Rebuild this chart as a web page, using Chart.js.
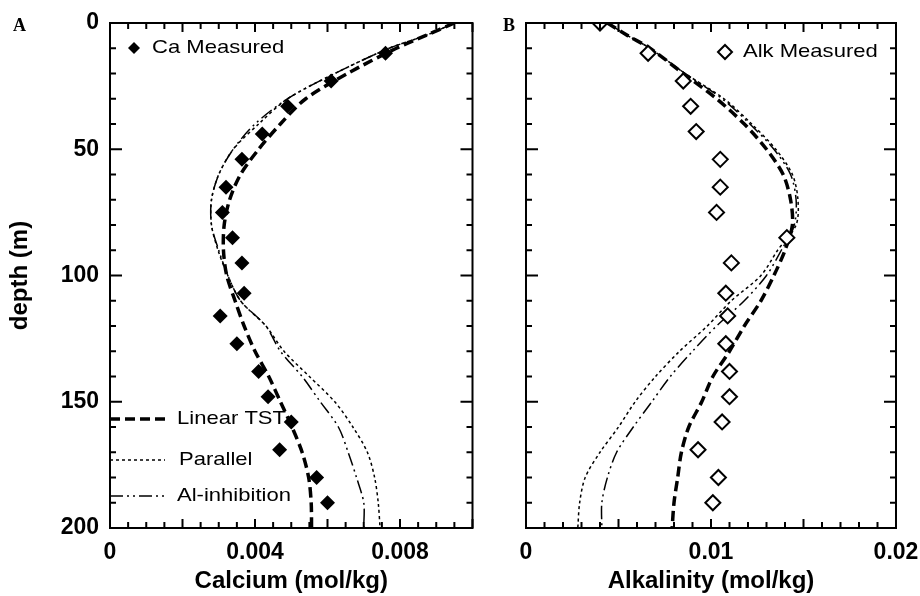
<!DOCTYPE html>
<html>
<head>
<meta charset="utf-8">
<script src="https://cdn.jsdelivr.net/npm/chart.js@4.4.1/dist/chart.umd.min.js"></script>
<style>
  html, body { margin: 0; padding: 0; background: #fff; }
  #wrap { position: relative; width: 920px; height: 596px; overflow: hidden; }
  #boxA { position: absolute; left: 0; top: 0; width: 480px; height: 596px; }
  #boxB { position: absolute; left: 480px; top: 0; width: 440px; height: 596px; }
</style>
</head>
<body>
<div id="wrap">
  <div id="boxA"><canvas id="chartA" width="480" height="596"></canvas></div>
  <div id="boxB"><canvas id="chartB" width="440" height="596"></canvas></div>
</div>
<script>
// measured samples
caDepth = [12, 23, 33, 44, 54, 65, 75, 85, 95, 107, 116, 127, 138, 148, 158, 169, 180, 190]
caMeasured = [0.0076, 0.0061, 0.0049, 0.0042, 0.00364, 0.0032, 0.0031, 0.00338, 0.00364, 0.0037, 0.00304, 0.0035, 0.0041, 0.00436, 0.005, 0.00468, 0.0057, 0.006]

alkDepth = [0, 12, 23, 33, 43, 54, 65, 75, 85, 95, 107, 116, 127, 138, 148, 158, 169, 180, 190]
alkMeasured = [0.004, 0.0066, 0.0085, 0.0089, 0.0092, 0.0105, 0.0105, 0.0103, 0.0141, 0.0111, 0.0108, 0.0109, 0.0108, 0.011, 0.011, 0.0106, 0.0093, 0.0104, 0.0101]

// model profiles, all on the same depth grid
modelDepth = [0, 5, 10, 20, 30, 40, 50, 60, 70, 80, 90, 100, 110, 120, 130, 140, 150, 160, 170, 180, 190, 200]
caLinear   = [0.0095, 0.0087, 0.0079, 0.00655, 0.0054, 0.0047, 0.0041, 0.0036, 0.0033, 0.00315, 0.00313, 0.00322, 0.00345, 0.0037, 0.004, 0.00438, 0.0047, 0.00502, 0.0053, 0.00548, 0.00555, 0.00556]
caParallel = [0.0095, 0.0087, 0.0077, 0.0062, 0.0049, 0.0041, 0.0034, 0.003, 0.0028, 0.0028, 0.00298, 0.00325, 0.0036, 0.0043, 0.0048, 0.0055, 0.0062, 0.0067, 0.0071, 0.0073, 0.0074, 0.00745]
caInhib    = [0.0095, 0.0087, 0.0077, 0.0062, 0.0049, 0.004, 0.0034, 0.003, 0.0028, 0.0028, 0.003, 0.00325, 0.0036, 0.0043, 0.0047, 0.0053, 0.0058, 0.0063, 0.00657, 0.0068, 0.007, 0.007]

alkLinear   = [0.0044, 0.0055, 0.0067, 0.0085, 0.0103, 0.0118, 0.013, 0.0139, 0.0143, 0.0144, 0.014, 0.0134, 0.0127, 0.0118, 0.011, 0.0101, 0.0095, 0.0088, 0.0084, 0.0082, 0.008, 0.0079]
alkParallel = [0.0044, 0.0055, 0.0067, 0.0086, 0.0107, 0.0122, 0.0135, 0.0144, 0.0147, 0.0146, 0.0136, 0.0127, 0.0111, 0.0098, 0.0083, 0.007, 0.0059, 0.005, 0.004, 0.0032, 0.0029, 0.0028]
alkInhib    = [0.0044, 0.0055, 0.0067, 0.0086, 0.0106, 0.0121, 0.0134, 0.0143, 0.0146, 0.0145, 0.0138, 0.013, 0.0118, 0.0103, 0.009, 0.0078, 0.0068, 0.0058, 0.0049, 0.0044, 0.0041, 0.0041]

caTicks = [0, 0.004, 0.008]
alkTicks = [0, 0.01, 0.02]
depthTicks = [0, 50, 100, 150, 200]

Chart.defaults.font.family = '"Liberation Sans", Arial, Helvetica, sans-serif'
Chart.defaults.color = '#000'

function pts(xs, ys) { return xs.map((v, i) => ({x: v, y: ys[i]})) }

function modelSets(lin, par, inh) {
  return [
    {label: 'Linear TST', data: pts(lin, modelDepth), showLine: true, pointRadius: 0,
     borderColor: '#000', borderWidth: 3.5, borderDash: [10, 5], tension: 0.3},
    {label: 'Parallel', data: pts(par, modelDepth), showLine: true, pointRadius: 0,
     borderColor: '#000', borderWidth: 1.5, borderDash: [3, 3], tension: 0.3},
    {label: 'Al-inhibition', data: pts(inh, modelDepth), showLine: true, pointRadius: 0,
     borderColor: '#000', borderWidth: 1.5, borderDash: [13, 4, 2, 4, 2, 4], tension: 0.3}
  ]
}

// text that is a bit wider than the font, like the original figure
function wideText(ctx, txt, x, y, font, sx) {
  ctx.save()
  ctx.font = font
  ctx.textAlign = 'left'
  ctx.textBaseline = 'middle'
  ctx.fillStyle = '#000'
  ctx.translate(x, y)
  ctx.scale(sx, 1)
  ctx.fillText(txt, 0, 0)
  ctx.restore()
}

const decor = {
  id: 'decor',
  afterDraw(chart, args, o) {
    const ctx = chart.ctx, a = chart.chartArea, xs = chart.scales.x, ys = chart.scales.y
    ctx.save()
    ctx.strokeStyle = '#000'
    ctx.lineWidth = 2
    ctx.setLineDash([])
    ctx.strokeRect(a.left, a.top, a.right - a.left, a.bottom - a.top)

    // inward ticks on all four sides
    ctx.beginPath()
    const nx = Math.round(xs.max / o.xMinor)
    for (let i = 0; i <= nx; i++) {
      const px = xs.getPixelForValue(i * o.xMinor)
      const len = i % o.xLongEvery == 0 ? 9 : 6
      ctx.moveTo(px, a.bottom); ctx.lineTo(px, a.bottom - len)
      ctx.moveTo(px, a.top); ctx.lineTo(px, a.top + len)
    }
    for (let d = 0; d <= 200; d += 10) {
      const py = ys.getPixelForValue(d)
      const len = d % 50 == 0 ? 12 : 6
      ctx.moveTo(a.left, py); ctx.lineTo(a.left + len, py)
      ctx.moveTo(a.right, py); ctx.lineTo(a.right - len, py)
    }
    ctx.stroke()

    // panel letter
    ctx.font = 'bold 18px "Liberation Serif", "Times New Roman", serif'
    ctx.textBaseline = 'alphabetic'
    ctx.fillStyle = '#000'
    ctx.fillText(o.letter, o.letterX, 31)

    // marker legend
    const m = o.marker
    ctx.beginPath()
    ctx.moveTo(m.x - m.r, m.y); ctx.lineTo(m.x, m.y - m.r)
    ctx.lineTo(m.x + m.r, m.y); ctx.lineTo(m.x, m.y + m.r)
    ctx.closePath()
    if (m.filled) { ctx.fill() } else { ctx.fillStyle = '#fff'; ctx.fill(); ctx.stroke() }
    wideText(ctx, m.text, m.tx, m.y, '19px "Liberation Sans", Arial, sans-serif', 1.16)

    // line legend
    if (o.lines) {
      o.lines.forEach(it => {
        const ds = chart.data.datasets[it.ds]
        ctx.save()
        ctx.beginPath()
        ctx.lineWidth = ds.borderWidth
        ctx.setLineDash(ds.borderDash)
        ctx.moveTo(a.left, it.y); ctx.lineTo(a.left + 55, it.y)
        ctx.stroke()
        ctx.restore()
        wideText(ctx, ds.label, it.tx, it.y, '19px "Liberation Sans", Arial, sans-serif', 1.16)
      })
    }
    ctx.restore()
  }
}

function makeChart(id, measured, models, xMax, xTicks, xTitle, yShow, pad, yWidth, decorOpts) {
  return new Chart(document.getElementById(id), {
    type: 'scatter',
    data: {datasets: [measured].concat(models)},
    plugins: [decor],
    options: {
      responsive: false,
      animation: false,
      events: [],
      layout: {padding: pad},
      plugins: {legend: {display: false}, tooltip: {enabled: false}, decor: decorOpts},
      scales: {
        x: {
          type: 'linear', min: 0, max: xMax,
          afterBuildTicks: s => { s.ticks = xTicks.map(v => ({value: v})) },
          afterFit: s => { s.height = 68; s.paddingLeft = 0; s.paddingRight = 0 },
          grid: {display: false, drawTicks: false},
          border: {display: false},
          ticks: {font: {size: 23, weight: 'bold'}, padding: 11, maxRotation: 0, callback: v => String(v)},
          title: {display: true, text: xTitle, font: {size: 24, weight: 'bold'}, padding: {top: 0, bottom: 0}}
        },
        y: {
          type: 'linear', min: 0, max: 200, reverse: true,
          afterBuildTicks: s => { s.ticks = depthTicks.map(v => ({value: v})) },
          afterFit: s => { s.width = yWidth; s.paddingTop = 0; s.paddingBottom = 0 },
          grid: {display: false, drawTicks: false},
          border: {display: false},
          ticks: {display: yShow, font: {size: 23, weight: 'bold'}, padding: 11},
          title: {display: yShow, text: 'depth (m)', font: {size: 24, weight: 'bold'}, padding: {top: 6, bottom: 0}}
        }
      }
    }
  })
}

makeChart('chartA',
  {label: 'Ca Measured', data: pts(caMeasured, caDepth), pointStyle: 'rectRot', pointRadius: 7.5,
   backgroundColor: '#000', borderColor: '#000', borderWidth: 0},
  modelSets(caLinear, caParallel, caInhib),
  0.01, caTicks, 'Calcium (mol/kg)', true,
  {left: 0, right: 1, top: 23, bottom: 0}, 110,
  {xMinor: 0.0005, xLongEvery: 4, letter: 'A', letterX: 13,
   marker: {x: 134, y: 48, r: 6, filled: true, text: 'Ca Measured', tx: 152},
   lines: [{ds: 1, y: 419, tx: 177}, {ds: 2, y: 460, tx: 179}, {ds: 3, y: 496, tx: 177}]})

makeChart('chartB',
  {label: 'Alk Measured', data: pts(alkMeasured, alkDepth), pointStyle: 'rectRot', pointRadius: 7.5,
   backgroundColor: '#fff', borderColor: '#000', borderWidth: 2},
  modelSets(alkLinear, alkParallel, alkInhib),
  0.02, alkTicks, 'Alkalinity (mol/kg)', false,
  {left: 0, right: 24, top: 23, bottom: 0}, 46,
  {xMinor: 0.001, xLongEvery: 5, letter: 'B', letterX: 23,
   marker: {x: 245, y: 52, r: 7, filled: false, text: 'Alk Measured', tx: 263}})
</script>
</body>
</html>
